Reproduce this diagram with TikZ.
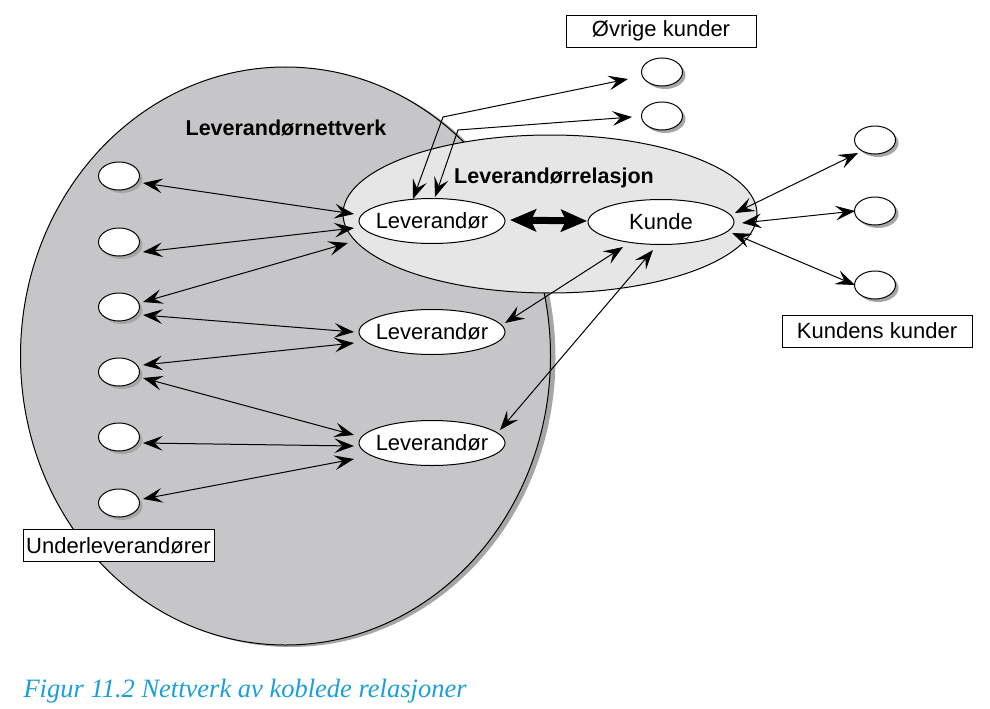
\documentclass[tikz,border=0pt]{standalone}
\usepackage{fontspec}
\setmainfont{Liberation Sans}
\newfontfamily\capfont{Liberation Serif}
\usetikzlibrary{shapes.geometric,arrows.meta,calc,shadows}
\definecolor{netgray}{HTML}{C6C6C8}
\definecolor{relgray}{HTML}{E6E6E6}
\definecolor{shadgray}{HTML}{A6A6A6}
\definecolor{capblue}{HTML}{1A9FD9}
\tikzset{
  small/.style={ellipse, draw, fill=white, minimum width=41pt, minimum height=28pt, inner sep=0pt, line width=1pt,
    drop shadow={shadow xshift=3pt, shadow yshift=-3pt, fill=shadgray, opacity=1}},
  actor/.style={ellipse, draw, fill=white, minimum width=146pt, minimum height=45pt, inner xsep=-14pt, inner ysep=0pt, line width=1pt,
    font=\fontsize{22}{26}\selectfont},
  tag/.style={draw, fill=white, line width=0.8pt, minimum width=190pt, minimum height=32pt, inner sep=0pt,
    font=\fontsize{22}{26}\selectfont},
  title/.style={font=\bfseries\fontsize{21.5}{26}\selectfont},
  arr/.style={{Stealth[scale=2.6,inset=3pt]}-{Stealth[scale=2.6,inset=3pt]}, line width=1pt},
  thickarr/.style={{Stealth[length=26pt,width=22pt,inset=5pt]}-{Stealth[length=26pt,width=22pt,inset=5pt]}, line width=7pt},
}
\begin{document}
\begin{tikzpicture}[x=1pt,y=1pt]
\useasboundingbox (0,0) rectangle (990,-709);
% big network ellipse with shadow
\node[ellipse, draw, fill=netgray, line width=1pt, minimum width=530pt, minimum height=578pt, inner sep=0pt,
  drop shadow={shadow xshift=5pt, shadow yshift=-2pt, fill=shadgray, opacity=1}] (net) at (285.5,-356) {};
% relation ellipse
\node[ellipse, draw, fill=relgray, line width=1pt, minimum width=414pt, minimum height=158pt, inner sep=0pt] (rel) at (550,-214) {};
\node[title] (nettxt) at (286,-128) {Leverandørnettverk};
\node[title] (reltxt) at (554,-178) {Leverandørrelasjon};
% actors
\node[actor] (L1) at (432,-221) {Leverandør};
\node[actor] (L2) at (432,-332) {Leverandør};
\node[actor] (L3) at (432,-443) {Leverandør};
\node[actor] (K) at (661,-222) {Kunde};
% small ellipses
\node[small] (s1) at (119,-176) {};
\node[small] (s2) at (119,-242) {};
\node[small] (s3) at (119,-307) {};
\node[small] (s4) at (119,-372) {};
\node[small] (s5) at (119,-437) {};
\node[small] (s6) at (119,-503) {};
\node[small] (o1) at (662,-72) {};
\node[small] (o2) at (662,-116) {};
\node[small] (r1) at (875,-140) {};
\node[small] (r2) at (875,-211) {};
\node[small] (r3) at (875,-285) {};
% label boxes
\node[tag] (ovr) at (661,-31) {Øvrige kunder};
\node[tag] (kk) at (877,-331) {Kundens kunder};
\node[tag, minimum width=191pt] (ul) at (118.5,-545.5) {Underleverandører};
% arrows left side
\draw[arr] ($(s1)+(24,-7)$) -- ($(L1)+(-78,7)$);
\draw[arr] ($(s2)+(24,-10)$) -- ($(L1)+(-78,-7)$);
\draw[arr] ($(s3)+(24,5)$) -- ($(L1)+(-84,-22)$);
\draw[arr] ($(s3)+(24,-8)$) -- ($(L2)+(-78,0)$);
\draw[arr] ($(s4)+(24,7)$) -- ($(L2)+(-78,-11)$);
\draw[arr] ($(s4)+(24,-6)$) -- ($(L3)+(-78,8)$);
\draw[arr] ($(s5)+(24,-6)$) -- ($(L3)+(-78,-3)$);
\draw[arr] ($(s6)+(24,4)$) -- ($(L3)+(-78,-16)$);
% supplier-customer
\draw[thickarr] ($(L1)+(78,1)$) -- ($(K)+(-74,1)$);
\draw[arr] ($(K)+(-38,-25)$) -- ($(L2)+(73,9)$);
\draw[arr] ($(K)+(-8,-28)$) -- ($(L3)+(68,13)$);
% to other customers
\coordinate (c1) at (443,-117);
\coordinate (c2) at (458,-130);
\draw[arr] ($(L1)+(-19,22)$) -- (c1) -- ($(o1)+(-34,-7)$);
\draw[arr] ($(L1)+(3,24)$) -- (c2) -- ($(o2)+(-30,-1)$);
% customer's customers
\draw[arr] ($(K)+(74,9)$) -- ($(r1)+(-17,-13)$);
\draw[arr] ($(K)+(81,-1)$) -- ($(r2)+(-20,0)$);
\draw[arr] ($(K)+(71,-11)$) -- ($(r3)+(-20,0)$);
% caption
\node[anchor=base west, text=capblue, font=\capfont\itshape\fontsize{26.5}{30}\selectfont] (cap) at (20,-697) {Figur 11.2 Nettverk av koblede relasjoner};
\end{tikzpicture}
\end{document}
